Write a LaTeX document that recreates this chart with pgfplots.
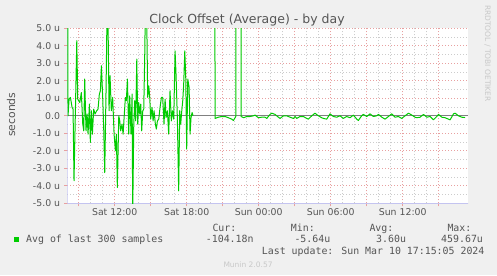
\documentclass[border=0pt]{standalone}
\usepackage{pgfplots}
\pgfplotsset{compat=1.18}
\usepackage{pgfplotstable}
\usepackage{fontspec}
\setmainfont{DejaVu Sans}
\newfontfamily\monofont{DejaVu Sans Mono}
\usetikzlibrary{arrows.meta}
\definecolor{bg}{HTML}{F0F0F0}
\definecolor{txt}{HTML}{555555}
\definecolor{faint}{HTML}{C8C8C8}
\definecolor{mgrid}{HTML}{E8A0A0}
\definecolor{grd}{HTML}{CCCCCC}
\definecolor{axc}{HTML}{C4C4F0}
\definecolor{lgreen}{HTML}{00CC00}
\definecolor{zeroc}{HTML}{808080}

% hours since Sat 00:00, value in micro-seconds
\pgfplotstableread{
h v
8.06 20
8.11 0
8.20 0.95
8.31 1.05
8.45 0.48
8.53 0.38
8.61 -3.71
8.72 0.10
8.84 4.29
8.92 0.95
9.00 0.86
9.09 0.76
9.22 1.33
9.34 -0.48
9.42 -0.86
9.50 2.10
9.61 -0.86
9.70 0.10
9.78 -1.05
9.89 0.67
9.97 -1.52
10.06 0.29
10.14 -1.05
10.25 0.38
10.36 0.10
10.50 0.29
10.61 0.38
10.72 1.24
10.81 1.43
10.89 2.86
11.00 1.05
11.09 -0.86
11.17 -3.24
11.28 1.52
11.40 8
11.53 0.29
11.61 2.29
11.72 0.29
11.83 1.05
11.95 -1.05
12.06 -2.00
12.14 -1.05
12.22 -4.10
12.34 0
12.42 -0.29
12.50 -0.86
12.61 -0.48
12.70 -1.05
12.81 0.19
12.89 1.05
12.97 0.86
13.06 2.10
13.17 -1.05
13.25 1.14
13.36 -1.05
13.45 1.24
13.50 -5.64
13.59 -0.48
13.67 0.86
13.75 -0.29
13.84 3.24
13.92 -0.48
14.00 0.76
14.09 0.10
14.17 0.67
14.25 -0.86
14.34 0.29
14.42 0.38
14.50 3.33
14.61 9
14.75 1.05
14.84 1.71
14.92 1.05
15.00 -0.19
15.11 0.48
15.20 -0.29
15.28 0.29
15.39 -0.48
15.47 -0.76
15.56 -0.29
15.67 -0.19
15.78 0.48
15.89 1.05
16.00 1.05
16.11 -0.48
16.20 0.95
16.28 -0.10
16.39 0.29
16.50 -1.05
16.61 1.43
16.72 -0.29
16.81 0.29
16.92 -0.19
17.03 3.71
17.11 2.38
17.22 -0.10
17.33 -4.29
17.42 0.29
17.50 -0.48
17.59 0.29
17.67 0.86
17.75 1.81
17.84 3.71
17.92 2.19
18.00 -1.90
18.09 2.10
18.20 1.62
18.28 -1.05
18.36 -0.10
18.45 0.19
18.53 0
}\segA

\pgfplotstableread{
h v
20.28 120
20.36 -0.15
20.64 -0.08
20.92 -0.04
21.20 -0.04
21.47 -0.11
21.75 -0.19
21.89 -0.27
22.09 -0.04
22.20 300
22.47 459.67
22.53 -0.04
22.75 -0.11
23.00 -0.04
23.28 -0.04
23.56 0
23.70 0.04
23.97 -0.11
24.25 -0.08
24.53 -0.08
24.67 -0.15
24.95 0.08
25.09 0.15
25.36 0.08
25.64 -0.08
25.78 -0.15
26.06 0
26.34 0
26.61 -0.08
26.89 -0.15
27.03 -0.04
27.17 -0.15
27.44 -0.04
27.72 -0.04
28.00 -0.15
28.14 -0.19
28.42 0
28.69 0.15
28.97 0
29.25 -0.11
29.39 -0.15
29.67 -0.19
29.94 0.11
30.22 -0.04
30.50 -0.08
30.78 0
31.05 -0.15
31.33 -0.04
31.61 -0.11
31.89 0.04
32.17 -0.19
32.30 -0.27
32.58 0
32.72 0.08
33.00 -0.04
33.28 0.11
33.55 -0.04
33.83 0
33.98 0.08
34.26 -0.08
34.53 -0.19
34.81 -0.04
35.09 0.11
35.37 -0.08
35.64 -0.04
35.92 -0.15
36.20 0
36.48 0.15
36.76 0.04
37.03 -0.08
37.17 -0.11
37.45 -0.08
37.73 0.08
38.01 -0.08
38.28 -0.04
38.56 -0.23
38.84 -0.04
38.98 0.08
39.26 -0.08
39.53 -0.11
39.81 -0.19
39.95 -0.23
40.23 0.11
40.37 0.15
40.64 0
40.92 -0.08
41.20 -0.10
}\segB

\begin{document}
\begin{tikzpicture}[x=1bp,y=1bp]
\fill[bg] (0,0) rectangle (497,275);
\begin{axis}[
  at={(67.3bp,71.7bp)}, anchor=south west,
  scale only axis, width=400.8bp, height=175bp,
  xmin=8.05, xmax=41.45, ymin=-5, ymax=5,
  axis background/.style={fill=white},
  axis line style={draw=none},
  xtick={9,12,...,39},
  xticklabels={,Sat 12:00,,Sat 18:00,,Sun 00:00,,Sun 06:00,,Sun 12:00,},
  ytick={-5,-4,...,5},
  yticklabels={-5.0 u,-4.0 u,-3.0 u,-2.0 u,-1.0 u,0.0,1.0 u,2.0 u,3.0 u,4.0 u,5.0 u},
  minor x tick num=2, minor y tick num=1,
  grid=both,
  major grid style={mgrid, line width=0.8bp, dash pattern=on 1bp off 2bp},
  minor grid style={grd, line width=0.8bp, dash pattern=on 1bp off 2bp},
  xtick pos=bottom, ytick pos=left,
  tick align=outside,
  major tick length=3bp, minor tick length=0bp,
  major tick style={mgrid, line width=0.8bp, solid},
  ticklabel style={font=\fontsize{9.35bp}{11bp}\selectfont, text=txt},
  yticklabel style={anchor=east, inner sep=0pt, xshift=-4bp},
  xticklabel style={anchor=base, inner sep=0pt, yshift=-9bp},
]
\draw[zeroc, line width=0.9bp] (rel axis cs:0,0.5) -- (rel axis cs:1,0.5);
\draw[axc, line width=0.9bp, -{Triangle[width=6bp,length=5bp]}] (rel axis cs:0,0) -- ([xshift=6bp]rel axis cs:1,0);
\draw[axc, line width=0.9bp, -{Triangle[width=6bp,length=5bp]}] (rel axis cs:0,0) -- ([yshift=7bp]rel axis cs:0,1);
\addplot[lgreen, line width=1bp, line join=round] table[x=h,y=v] {\segA};
\addplot[lgreen, line width=1bp, line join=round] table[x=h,y=v] {\segB};
\end{axis}
% titles
\node[anchor=base, text=txt, font=\fontsize{12.5bp}{14bp}\selectfont, inner sep=0] at (247,251.3) {Clock Offset (Average) - by day};
\node[anchor=base, rotate=90, text=txt, font=\fontsize{10.8bp}{12bp}\selectfont, inner sep=0] at (15,160.3) {seconds};
\node[anchor=base, rotate=-90, text=faint, font=\fontsize{7.5bp}{9bp}\selectfont, inner sep=0] at (485,221.5) {RRDTOOL / TOBI OETIKER};
% legend
\fill[lgreen] (14,32.7) rectangle (19,37.7);
\begin{scope}[every node/.style={anchor=base west, inner sep=0, text=txt, font=\monofont\fontsize{9.9bp}{11bp}\selectfont}]
\node at (26,32.8) {Avg of last 300 samples};
\node at (212.3,44) {Cur:};
\node at (290.7,44) {Min:};
\node at (369.3,44) {Avg:};
\node at (447.3,44) {Max:};
\node at (205.7,32.3) {-104.18n};
\node at (294.3,32.3) {-5.64u};
\node at (376,32.3) {3.60u};
\node at (441,32.3) {459.67u};
\node at (261.7,20.5) {Last update: Sun Mar 10 17:15:05 2024};
\end{scope}
\node[anchor=base west, inner sep=0, text=faint, font=\fontsize{7.5bp}{9bp}\selectfont] at (223.3,7.7) {Munin 2.0.57};
\pgfresetboundingbox
\useasboundingbox (0,0) rectangle (497,275);
\end{tikzpicture}
\end{document}
